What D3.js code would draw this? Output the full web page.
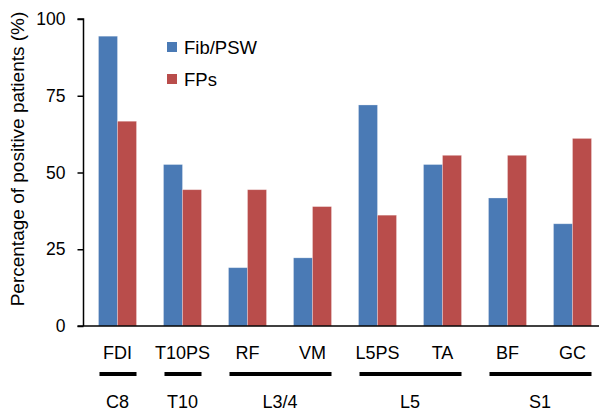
<!DOCTYPE html>
<html>
<head>
<meta charset="utf-8">
<script src="https://cdn.jsdelivr.net/npm/d3@7"></script>
<style>
  html, body { margin: 0; padding: 0; background: #fff; }
  svg { display: block; font-family: Arial, "Liberation Sans", Helvetica, sans-serif; }
</style>
</head>
<body>
<svg id="chart" width="599" height="410"></svg>
<script>
const categories = ["FDI", "T10PS", "RF", "VM", "L5PS", "TA", "BF", "GC"];
const seriesNames = ["Fib/PSW", "FPs"];
const fibPSW = [94.4, 52.6, 19.0, 22.2, 72.0, 52.6, 41.7, 33.3];
const fps = [66.7, 44.4, 44.4, 38.9, 36.1, 55.6, 55.6, 61.1];
const yTicks = [0, 25, 50, 75, 100];
const groups = [
  { label: "C8", members: ["FDI"] },
  { label: "T10", members: ["T10PS"] },
  { label: "L3/4", members: ["RF", "VM"] },
  { label: "L5", members: ["L5PS", "TA"] },
  { label: "S1", members: ["BF", "GC"] }
];
const colors = ["#4A7AB5", "#B94D4B"];

const svg = d3.select("#chart");
const yTop = 19, yBottom = 326, xLeft = 83.5;

const x0 = d3.scaleBand().domain(categories).range([85, 605])
  .paddingInner(0.415).paddingOuter(0.2075);
const x1 = d3.scaleBand().domain(seriesNames).range([0, x0.bandwidth()]).padding(0);
const y = d3.scaleLinear().domain([0, 100]).range([yBottom, yTop]);

const data = categories.map((c, i) => ({ cat: c, vals: [fibPSW[i], fps[i]] }));

// bars
const g = svg.append("g");
data.forEach(d => {
  d.vals.forEach((v, j) => {
    g.append("rect")
      .attr("x", x0(d.cat) + x1(seriesNames[j]))
      .attr("y", y(v))
      .attr("width", x1.bandwidth())
      .attr("height", y(0) - y(v))
      .attr("fill", colors[j])
      .attr("stroke", "rgba(255,255,255,0.35)")
      .attr("stroke-width", 0.8);
  });
});

// y axis
const yAxis = d3.axisLeft(y).tickValues(yTicks).tickSize(6).tickPadding(12);
const ya = svg.append("g").attr("transform", `translate(${xLeft},0)`).call(yAxis);
ya.select(".domain").attr("stroke", "#000").attr("stroke-width", 1.5).attr("d", `M-6,${yTop}H0V${yBottom}`);
ya.selectAll(".tick line").attr("stroke", "#000").attr("stroke-width", 1.5);
ya.selectAll(".tick text").attr("font-size", "17.5px").attr("fill", "#000")
  .attr("font-family", "Arial, 'Liberation Sans', sans-serif");

// x axis baseline
svg.append("line").attr("x1", xLeft - 6).attr("x2", 599)
  .attr("y1", yBottom).attr("y2", yBottom)
  .attr("stroke", "#000").attr("stroke-width", 1.5);

// category labels
svg.append("g").selectAll("text").data(categories).join("text")
  .attr("x", d => x0(d) + x0.bandwidth() / 2)
  .attr("y", 358.5)
  .attr("text-anchor", "middle")
  .attr("font-size", "18px")
  .text(d => d);

// group bars and labels
groups.forEach(gr => {
  const xs = x0(gr.members[0]);
  const xe = x0(gr.members[gr.members.length - 1]) + x0.bandwidth();
  svg.append("line").attr("x1", xs + 1).attr("x2", xe)
    .attr("y1", 374).attr("y2", 374)
    .attr("stroke", "#000").attr("stroke-width", 4);
  svg.append("text").attr("x", (xs + xe) / 2).attr("y", 407.5)
    .attr("text-anchor", "middle").attr("font-size", "18px").text(gr.label);
});

// y title
svg.append("text")
  .attr("transform", "translate(23.5,159) rotate(-90)")
  .attr("text-anchor", "middle")
  .attr("font-size", "19px")
  .text("Percentage of positive patients (%)");

// legend
const legend = svg.append("g");
seriesNames.forEach((s, i) => {
  legend.append("rect").attr("x", 167).attr("y", 42 + i * 32)
    .attr("width", 10).attr("height", 10).attr("fill", colors[i]);
  legend.append("text").attr("x", 184).attr("y", 54 + i * 32)
    .attr("font-size", "18.5px").text(s);
});
</script>
</body>
</html>
